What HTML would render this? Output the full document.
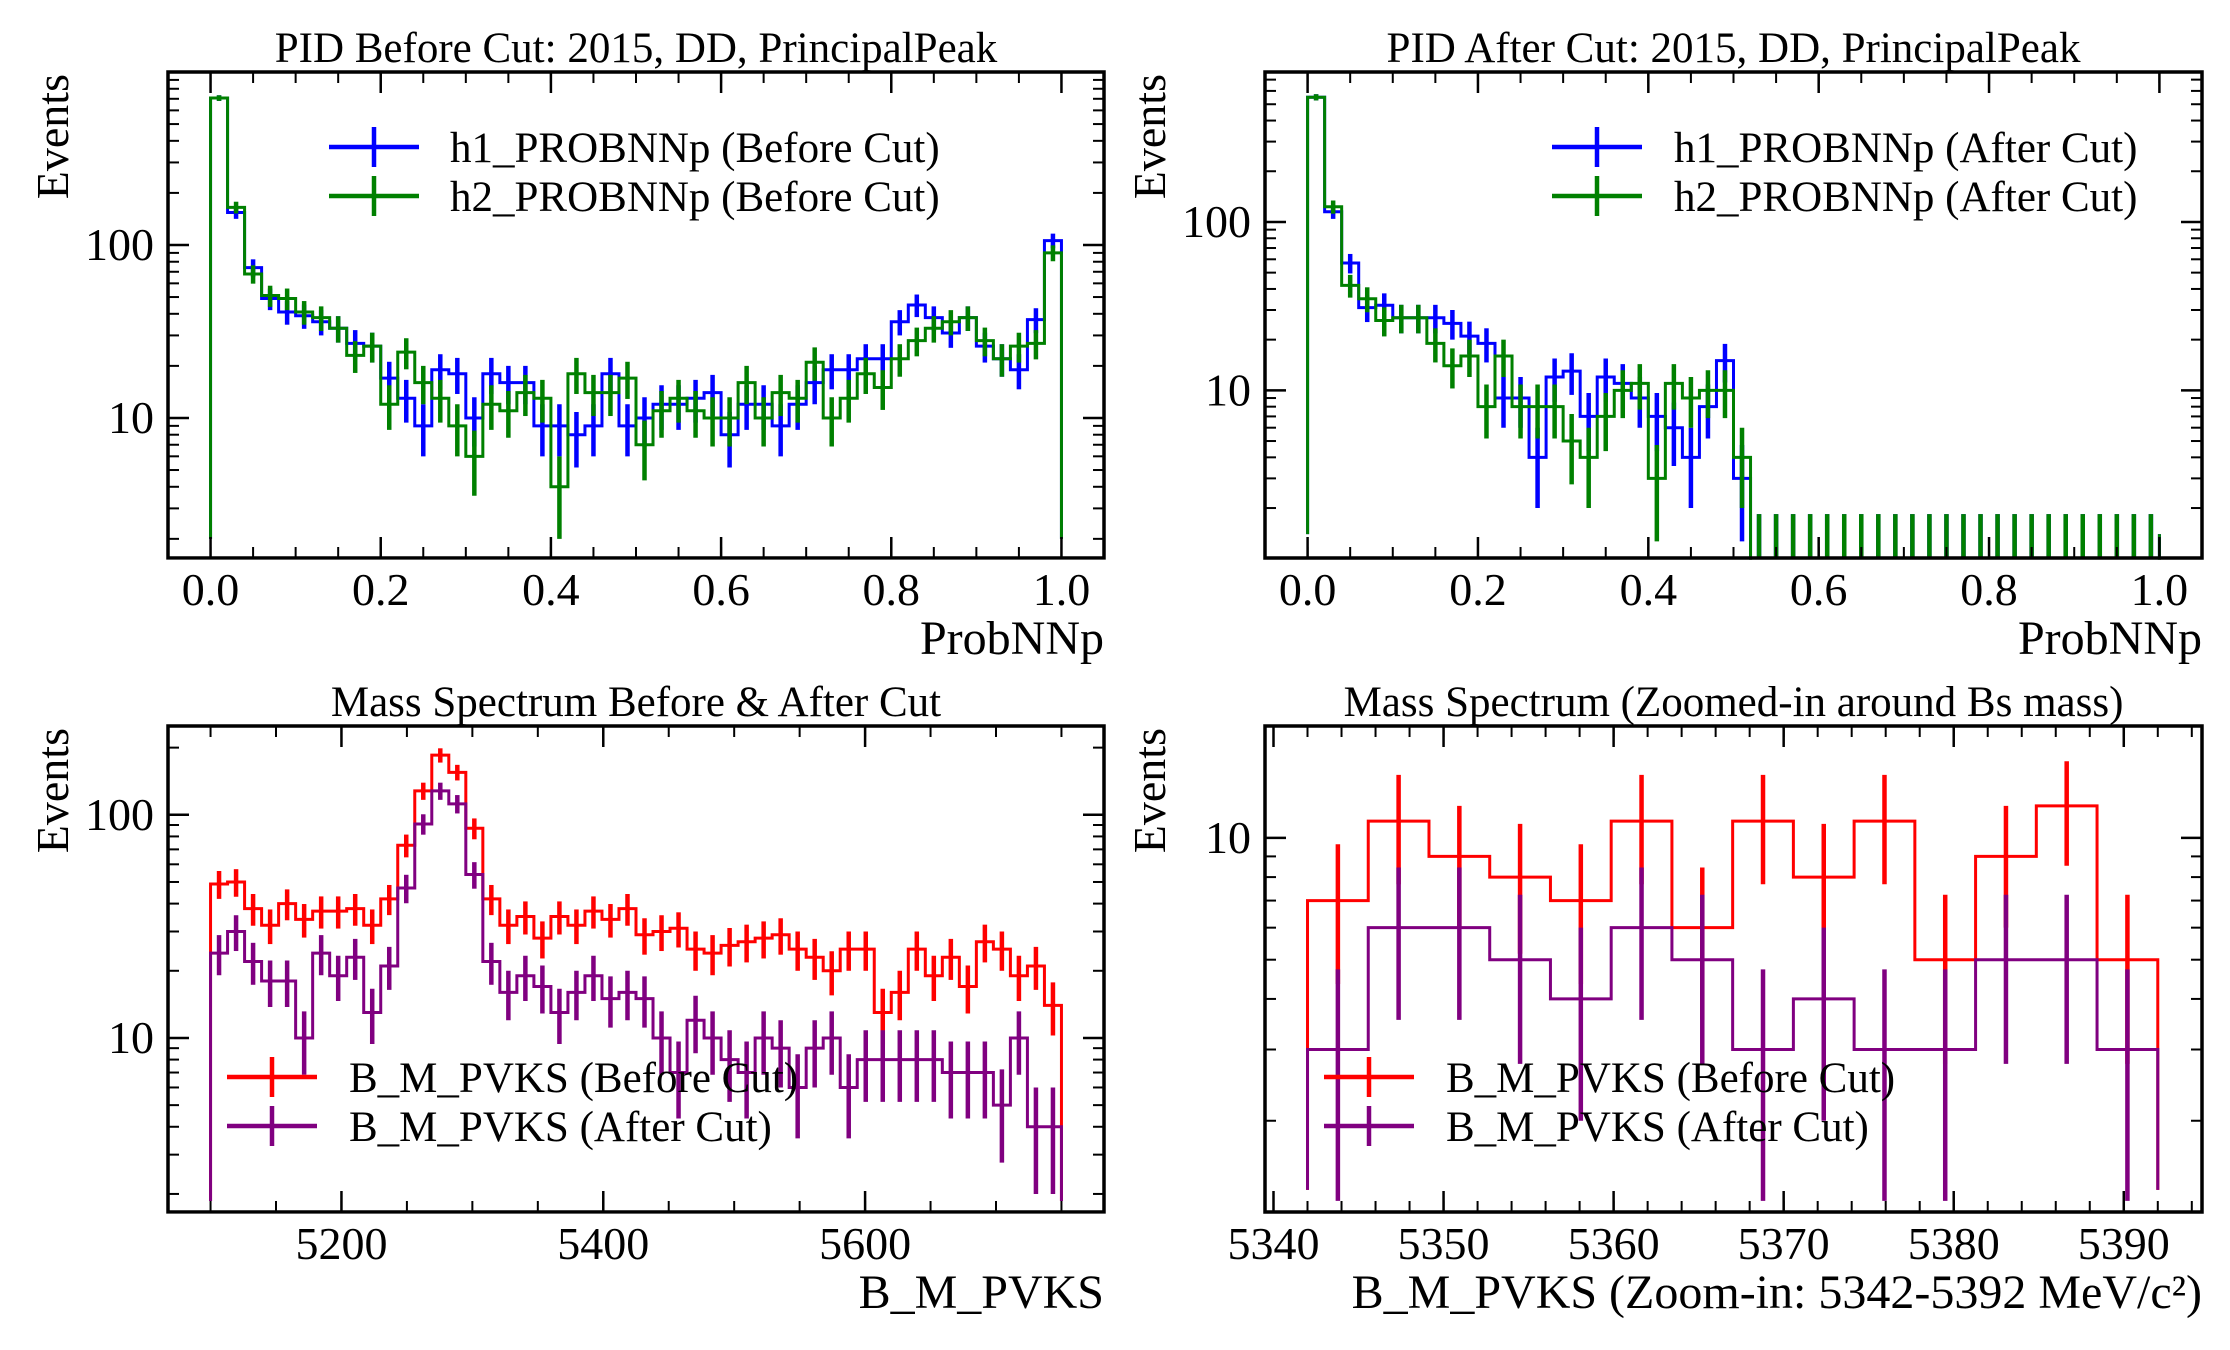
<!DOCTYPE html>
<html><head><meta charset="utf-8"><style>
html,body{margin:0;padding:0;background:#fff;}
svg{display:block;font-family:"Liberation Serif","DejaVu Serif",serif;}
</style></head><body>
<svg id="fig" width="2230" height="1350" viewBox="0 0 2230 1350" xmlns="http://www.w3.org/2000/svg">
<rect width="2230" height="1350" fill="#fff"/>
</svg>
<script>
// ---- Data ----
const p1Edges0 = 0, p1Width = 0.02;
const p1H1 = [707,154,74,49,41,39,36,33,27,26,17,13,9,19,18,10,18,16,16,9,9,8,9,18,9,10,12,12,13,14,8,12,12,9,12,16,19,19,22,22,36,45,38,31,38,26,22,19,37,106];
const p1H2 = [707,165,68,51,49,41,38,33,23,26,12,24,16,13,9,6,12,11,14,13,4,18,14,14,17,7,11,13,11,10,10,16,10,14,13,21,10,13,18,15,22,28,33,36,38,28,22,26,27,90];
const p2H1 = [550,115,57,31,32,27,27,27,25,21,19,9,9,4,12,13,7,12,11,9,7,6,4,8,15,3,0,0,0,0,0,0,0,0,0,0,0,0,0,0,0,0,0,0,0,0,0,0,0,0];
const p2H2 = [550,123,42,35,26,27,27,19,14,16,8,16,8,8,8,5,4,7,10,11,3,11,9,10,10,4,0,0,0,0,0,0,0,0,0,0,0,0,0,0,0,0,0,0,0,0,0,0,0,0];
const p3Start = 5100, p3Width = 13;
const p3Before = [49,50,38,32,40,34,37,37,38,32,42,73,128,185,155,87,42,32,35,28,35,32,37,34,38,29,30,31,25,24,26,27,28,29,25,23,20,25,25,13,16,25,19,23,17,27,25,19,21,14];
const p3After = [24,30,22,18,18,10,24,19,23,13,21,47,91,128,112,54,22,16,19,17,13,16,19,15,16,15,10,7,12,10,8,7,10,9,6,9,10,6,8,8,8,8,8,7,7,7,5,10,4,4];
const p4Start = 5342, p4Width = 50/14;
const p4Before = [7,11,9,8,7,11,6,11,8,11,5,9,12,5];
const p4After = [3,6,6,5,4,6,5,3,4,3,3,5,5,3];
const p1XTicks = ["0.0","0.2","0.4","0.6","0.8","1.0"];
const p3XTicks = ["5200","5400","5600"];
const p4XTicks = ["5340","5350","5360","5370","5380","5390"];

const NS = "http://www.w3.org/2000/svg";
const svg = document.getElementById('fig');
function el(tag, attrs, parent){ const e=document.createElementNS(NS,tag); for(const k in attrs) e.setAttribute(k,attrs[k]); (parent||svg).appendChild(e); return e; }
function txt(s, attrs, parent){ const t=el('text',attrs,parent); t.textContent=s; return t; }

function makePanel(cfg){
  const g = el('g',{});
  
  
  const lmin=Math.log10(cfg.ymin), lmax=Math.log10(cfg.ymax);
  cfg.xs = v => cfg.x0 + (v-cfg.xmin)/(cfg.xmax-cfg.xmin)*(cfg.x1-cfg.x0);
  cfg.ys = v => { const lv=Math.log10(Math.max(v,cfg.ymin)); return cfg.y1 - (lv-lmin)/(lmax-lmin)*(cfg.y1-cfg.y0); };
  cfg.g = g;
  return cfg;
}
function drawHist(p, start, width, vals, color, name){
  const g = el('g',{},p.g);
  
  
  let d = 'M'+p.xs(start)+','+p.ys(p.base);
  vals.forEach((v,i)=>{
    const yy = v>0 ? p.ys(v) : p.y1+5;
    d += ' L'+p.xs(start+i*width)+','+yy+' L'+p.xs(start+(i+1)*width)+','+yy;
  });
  d += ' L'+p.xs(start+vals.length*width)+','+p.ys(p.base);
  const path = el('path',{d:d,fill:'none',stroke:color,'stroke-width':3},g);
  
  
  vals.forEach((v,i)=>{
    const cx = p.xs(start+(i+0.5)*width);
    const e = v>0 ? Math.sqrt(v) : 1.84;
    const lo = v-e>0 ? p.ys(v-e) : p.y1;
    const hi = p.ys(v+e);
    const l = el('line',{x1:cx,x2:cx,y1:lo,y2:hi,stroke:color,'stroke-width':4.5},g);
    
    
  });
}
function drawAxes(p, majors, labels, minorStart, minorStep, minorEnd, yLabels){
  const g = p.g;
  const cl = el('rect',{x:0,y:p.y1+1.75,width:2230,height:12,fill:'#fff'},g);
  const fr = el('rect',{x:p.x0,y:p.y0,width:p.x1-p.x0,height:p.y1-p.y0,fill:'none',stroke:'#000','stroke-width':3.5},g);
  
  
  for(let v=minorStart; v<=minorEnd+1e-9; v+=minorStep){
    const x=p.xs(v);
    if(x<p.x0-1||x>p.x1+1) continue;
    el('line',{x1:x,x2:x,y1:p.y1,y2:p.y1-11,stroke:'#000','stroke-width':2},g);
    el('line',{x1:x,x2:x,y1:p.y0,y2:p.y0+11,stroke:'#000','stroke-width':2},g);
  }
  majors.forEach((v,i)=>{
    const x=p.xs(v);
    el('line',{x1:x,x2:x,y1:p.y1,y2:p.y1-21,stroke:'#000','stroke-width':2.5},g);
    el('line',{x1:x,x2:x,y1:p.y0,y2:p.y0+21,stroke:'#000','stroke-width':2.5},g);
    const t = txt(labels[i],{x:x,y:p.y1+47,'font-size':46,'text-anchor':'middle'},g);
    
    
  });
  for(let dec=-1; dec<=3; dec++){
    for(let m=1; m<=9; m++){
      const v=m*Math.pow(10,dec);
      if(v<p.ymin||v>p.ymax*1.001) continue;
      const y=p.ys(v), len = m===1?21:11;
      el('line',{x1:p.x0,x2:p.x0+len,y1:y,y2:y,stroke:'#000','stroke-width':m===1?2.5:2},g);
      el('line',{x1:p.x1,x2:p.x1-len,y1:y,y2:y,stroke:'#000','stroke-width':m===1?2.5:2},g);
      if(m===1 && yLabels.indexOf(v)>=0){
        const t = txt(String(v),{x:p.x0-14,y:y+15,'font-size':46,'text-anchor':'end'},g);
        
        
      }
    }
  }
  const tt = txt(p.title,{x:(p.x0+p.x1)/2,y:p.y0-10,'font-size':43,'text-anchor':'middle'},g);
  
  
  const xl = txt(p.xlabel,{x:p.x1,y:p.y1+96,'font-size':48,'text-anchor':'end'},g);
  
  
  const ylx = p.x0-100, yly = p.y0+2;
  const yl = txt('Events',{x:ylx,y:yly,'font-size':46,'text-anchor':'end',transform:'rotate(-90 '+ylx+' '+yly+')'},g);
  
  
}
function legend(p, lx, ly, tx, entries){
  entries.forEach((e,i)=>{
    const y = ly + i*49;
    const g = el('g',{},p.g);
    
    
    el('line',{x1:lx,x2:lx+90,y1:y,y2:y,stroke:e[1],'stroke-width':4.5},g);
    el('line',{x1:lx+45,x2:lx+45,y1:y-20,y2:y+20,stroke:e[1],'stroke-width':4.5},g);
    txt(e[0],{x:tx,y:y+15,'font-size':43},g);
  });
}

const p1 = makePanel({name:'pid-before-panel',x0:168,x1:1104,y0:72,y1:558,xmin:-0.05,xmax:1.05,ymin:1.55,ymax:1000,base:2.0,title:'PID Before Cut: 2015, DD, PrincipalPeak',xlabel:'ProbNNp'});
const p2 = makePanel({name:'pid-after-panel',x0:1265,x1:2202,y0:72,y1:558,xmin:-0.05,xmax:1.05,ymin:1.01,ymax:777,base:1.4,title:'PID After Cut: 2015, DD, PrincipalPeak',xlabel:'ProbNNp'});
const p3 = makePanel({name:'mass-spectrum-panel',x0:168,x1:1104,y0:726,y1:1212,xmin:5067.5,xmax:5782.5,ymin:1.66,ymax:250,base:1.86,title:'Mass Spectrum Before & After Cut',xlabel:'B_M_PVKS'});
const p4 = makePanel({name:'mass-zoom-panel',x0:1265,x1:2202,y0:726,y1:1212,xmin:5339.5,xmax:5394.6,ymin:1.19,ymax:18.9,base:1.35,title:'Mass Spectrum (Zoomed-in around Bs mass)',xlabel:'B_M_PVKS (Zoom-in: 5342-5392 MeV/c²)'});

drawHist(p1,p1Edges0,p1Width,p1H1,'#0000ff','h1-before');
drawHist(p1,p1Edges0,p1Width,p1H2,'#008000','h2-before');
drawAxes(p1,[0,0.2,0.4,0.6,0.8,1.0],p1XTicks,-0.05,0.05,1.05,[10,100]);
legend(p1,329,147,450,[['h1_PROBNNp (Before Cut)','#0000ff'],['h2_PROBNNp (Before Cut)','#008000']]);

drawHist(p2,p1Edges0,p1Width,p2H1,'#0000ff','h1-after');
drawHist(p2,p1Edges0,p1Width,p2H2,'#008000','h2-after');
drawAxes(p2,[0,0.2,0.4,0.6,0.8,1.0],p1XTicks,-0.05,0.05,1.05,[10,100]);
legend(p2,1552,147,1674,[['h1_PROBNNp (After Cut)','#0000ff'],['h2_PROBNNp (After Cut)','#008000']]);

drawHist(p3,p3Start,p3Width,p3Before,'#ff0000','mass-before');
drawHist(p3,p3Start,p3Width,p3After,'#800080','mass-after');
drawAxes(p3,[5200,5400,5600],p3XTicks,5100,50,5750,[10,100]);
legend(p3,227,1077,349,[['B_M_PVKS (Before Cut)','#ff0000'],['B_M_PVKS (After Cut)','#800080']]);

drawHist(p4,p4Start,p4Width,p4Before,'#ff0000','zoom-before');
drawHist(p4,p4Start,p4Width,p4After,'#800080','zoom-after');
drawAxes(p4,[5340,5350,5360,5370,5380,5390],p4XTicks,5340,2,5394,[10]);
legend(p4,1324,1077,1446,[['B_M_PVKS (Before Cut)','#ff0000'],['B_M_PVKS (After Cut)','#800080']]);
</script>
</body></html>
